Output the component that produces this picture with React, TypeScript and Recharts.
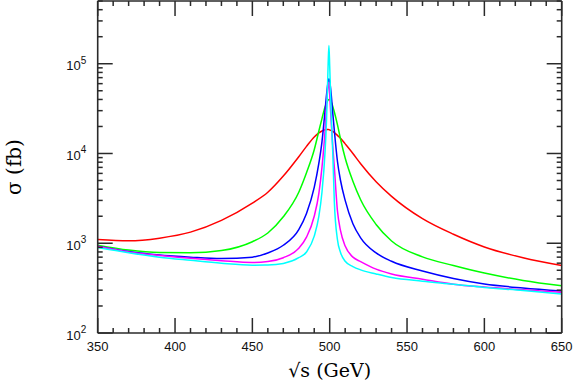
import { LineChart, Line, XAxis, YAxis, Label } from "recharts";

// sqrt(s) in GeV, denser near the 500 GeV resonance
const energies = [
  350, 370, 390, 410, 430, 450, 460, 470, 480, 485, 490, 493, 495, 497, 498,
  499, 499.5, 500, 501, 502, 503, 505, 507, 510, 515, 520, 530, 540, 560, 580,
  600, 625, 650,
];

// cross sections in fb
const redSigma = [
  1100, 1065, 1140, 1330, 1800, 2800, 3700, 5600, 9200, 12000, 15300, 17000,
  17800, 18400, 18500, 18500, 18450, 18300, 18000, 17600, 17100, 15900, 14800,
  12800, 10000, 7700, 4850, 3330, 1880, 1260, 910, 690, 565,
];
const greenSigma = [
  953, 840, 790, 785, 830, 1040, 1300, 1970, 3700, 6100, 11000, 17800, 24500,
  33000, 36500, 39500, 40000, 39800, 37500, 33500, 29000, 21000, 14500, 8900,
  4900, 3050, 1620, 1060, 705, 565, 465, 385, 336,
];
const blueSigma = [
  929, 810, 740, 700, 675, 700, 780, 950, 1420, 2150, 4200, 7800, 13500, 30000,
  46000, 63000, 68000, 64000, 45000, 28000, 18000, 8200, 5000, 3000, 1650,
  1150, 780, 630, 490, 405, 352, 317, 293,
];
const magentaSigma = [
  925, 800, 730, 680, 640, 610, 625, 690, 880, 1170, 2000, 3600, 7000, 18000,
  36000, 58000, 62000, 45000, 22000, 12000, 7000, 2300, 1380, 930, 700, 625,
  515, 455, 398, 350, 325, 303, 284,
];
const cyanSigma = [
  898, 785, 700, 645, 598, 570, 572, 595, 690, 800, 1200, 2000, 3700, 10500,
  25000, 100000, 160000, 95000, 26000, 10000, 2900, 1100, 790, 630, 550, 505,
  455, 415, 378, 350, 322, 298, 272,
];

// axis ticks
const xMajor = [350, 400, 450, 500, 550, 600, 650];
const xTicks = [
  350, 360, 370, 380, 390, 400, 410, 420, 430, 440, 450, 460, 470, 480, 490,
  500, 510, 520, 530, 540, 550, 560, 570, 580, 590, 600, 610, 620, 630, 640,
  650,
];
const yMajor = [100, 1000, 10000, 100000];
const yTicks = [
  100, 200, 300, 400, 500, 600, 700, 800, 900,
  1000, 2000, 3000, 4000, 5000, 6000, 7000, 8000, 9000,
  10000, 20000, 30000, 40000, 50000, 60000, 70000, 80000, 90000,
  100000, 200000, 300000, 400000, 500000,
];

const data = energies.map((e, i) => ({
  e,
  red: redSigma[i],
  green: greenSigma[i],
  blue: blueSigma[i],
  magenta: magentaSigma[i],
  cyan: cyanSigma[i],
}));

const AXIS = "#2a2a2a";
const SANS = "'Liberation Sans', Arial, sans-serif";
const SERIF = "'DejaVu Serif', serif";

const BottomTick = (p: any) => {
  const { x, y, payload } = p;
  const major = xMajor.includes(payload.value);
  return (
    <g>
      <line x1={x} x2={x} y1={y} y2={y - (major ? 15 : 5)} stroke={AXIS} strokeWidth={1.5} />
      {major && (
        <text x={x} y={y + 17.5} textAnchor="middle" fontFamily={SANS} fontSize={13} fill="#111">
          {payload.value}
        </text>
      )}
    </g>
  );
};

const TopTick = (p: any) => {
  const { x, y, payload } = p;
  const major = xMajor.includes(payload.value);
  return <line x1={x} x2={x} y1={y} y2={y + (major ? 15 : 5)} stroke={AXIS} strokeWidth={1.5} />;
};

const LeftTick = (p: any) => {
  const { x, y, payload } = p;
  const major = yMajor.includes(payload.value);
  const exp = Math.round(Math.log10(payload.value));
  return (
    <g>
      <line x1={x} x2={x + (major ? 15 : 5)} y1={y} y2={y} stroke={AXIS} strokeWidth={1.5} />
      {major && (
        <text x={x - 11.5} y={y + 6.5} textAnchor="end" fontFamily={SANS} fontSize={13} fill="#111">
          10
          <tspan dy={-6.5} fontSize={10}>
            {exp}
          </tspan>
        </text>
      )}
    </g>
  );
};

const RightTick = (p: any) => {
  const { x, y, payload } = p;
  const major = yMajor.includes(payload.value);
  return <line x1={x} x2={x - (major ? 15 : 5)} y1={y} y2={y} stroke={AXIS} strokeWidth={1.5} />;
};

const YTitle = (p: any) => {
  const vb = p.viewBox ?? { x: 0, y: 1, width: 98, height: 332 };
  const cx = vb.x + 13.5;
  const cy = vb.y + vb.height / 2;
  return (
    <text
      x={cx}
      y={cy}
      transform={`rotate(-90, ${cx}, ${cy})`}
      textAnchor="middle"
      dominantBaseline="central"
      fontFamily={SERIF}
      fontSize={20}
      fill="#000"
    >
      σ (fb)
    </text>
  );
};

export default function App() {
  const axisLine = { stroke: AXIS, strokeWidth: 1.6 };
  return (
    <div style={{ position: "absolute", left: 0, top: 0 }}>
      <LineChart
        width={575}
        height={382}
        data={data}
        margin={{ top: 0, right: 12.3, left: 0, bottom: 0 }}
      >
        <XAxis
          dataKey="e"
          type="number"
          domain={[350, 650]}
          ticks={xTicks}
          interval={0}
          height={49}
          tickSize={0}
          tickMargin={0}
          tickLine={false}
          axisLine={axisLine}
          tick={<BottomTick />}
        >
          <Label
            value="√s (GeV)"
            position="insideBottom"
            offset={5}
            fontFamily={SERIF}
            fontSize={19}
            fill="#000"
          />
        </XAxis>
        <XAxis
          xAxisId="top"
          orientation="top"
          dataKey="e"
          type="number"
          domain={[350, 650]}
          ticks={xTicks}
          interval={0}
          height={1}
          tickSize={0}
          tickMargin={0}
          tickLine={false}
          axisLine={axisLine}
          tick={<TopTick />}
        />
        <YAxis
          type="number"
          scale="log"
          domain={[100, 500000]}
          allowDataOverflow
          ticks={yTicks}
          interval={0}
          width={97.7}
          tickSize={0}
          tickMargin={0}
          tickLine={false}
          axisLine={axisLine}
          tick={<LeftTick />}
        >
          <Label content={YTitle} />
        </YAxis>
        <YAxis
          yAxisId="right"
          orientation="right"
          type="number"
          scale="log"
          domain={[100, 500000]}
          allowDataOverflow
          ticks={yTicks}
          interval={0}
          width={1}
          tickSize={0}
          tickMargin={0}
          tickLine={false}
          axisLine={axisLine}
          tick={<RightTick />}
        />
        <Line type="monotone" dataKey="red" stroke="#ff0000" strokeWidth={1.5} dot={false} isAnimationActive={false} />
        <Line type="monotone" dataKey="green" stroke="#00ff00" strokeWidth={1.5} dot={false} isAnimationActive={false} />
        <Line type="monotone" dataKey="blue" stroke="#0000ff" strokeWidth={1.5} dot={false} isAnimationActive={false} />
        <Line type="monotone" dataKey="magenta" stroke="#ff00ff" strokeWidth={1.5} dot={false} isAnimationActive={false} />
        <Line type="monotone" dataKey="cyan" stroke="#00ffff" strokeWidth={1.5} dot={false} isAnimationActive={false} />
      </LineChart>
    </div>
  );
}
